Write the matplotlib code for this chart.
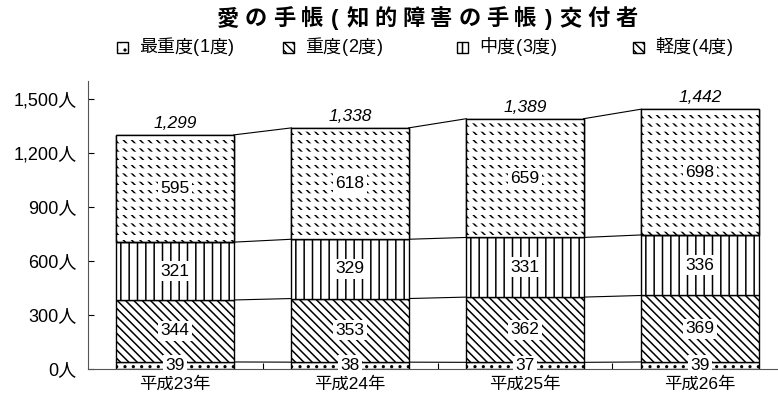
import matplotlib.pyplot as plt
from matplotlib.patches import Rectangle

plt.rcParams['font.family'] = ['Liberation Sans', 'Noto Sans CJK JP']
plt.rcParams['hatch.linewidth'] = 1.1

years = ['平成23年', '平成24年', '平成25年', '平成26年']
grade1 = [39, 38, 37, 39]      # 最重度(1度)
grade2 = [344, 353, 362, 369]  # 重度(2度)
grade3 = [321, 329, 331, 336]  # 中度(3度)
grade4 = [595, 618, 659, 698]  # 軽度(4度)
totals = [1299, 1338, 1389, 1442]
series_names = ['最重度(1度)', '重度(2度)', '中度(3度)', '軽度(4度)']
hatches = ['..', '\\\\\\\\', '||', '\\\\\\\\']

W, H = 778, 405
fig = plt.figure(figsize=(W / 100, H / 100), dpi=100)
ax = fig.add_axes([0.1125, 0.0889, 0.8997, 0.7119])


def spaced_text(x0, y, s, size, adv, narrow=0.62, **kw):
    # lay the string out one glyph at a time, with extra tracking
    x = x0
    for ch in s:
        w = adv if ord(ch) > 255 else adv * narrow
        fig.text((x + w / 2) / W, y, ch, ha='center', va='center',
                 fontsize=size, **kw)
        x += w


x = range(len(years))
width = 0.67
series = [grade1, grade2, grade3, grade4]
bottoms = [0] * len(years)
levels = []
for vals, h in zip(series, hatches):
    ax.bar(x, vals, width, bottom=bottoms, color='white', edgecolor='black',
           hatch=h, linewidth=1.0, zorder=2)
    bottoms = [b + v for b, v in zip(bottoms, vals)]
    levels.append(list(bottoms))

# break the top segment's diagonals into short dashes
b3 = [a + b + c for a, b, c in zip(grade1, grade2, grade3)]
white = ax.bar(x, grade4, width, bottom=b3, fill=False, edgecolor='white',
               hatch='--', linewidth=0, zorder=3)
for p in white.patches:
    if hasattr(p, 'set_hatch_linewidth'):
        p.set_hatch_linewidth(3.6)
ax.bar(x, grade4, width, bottom=b3, fill=False, edgecolor='black',
       linewidth=1.0, zorder=4)

# lines joining the segment boundaries of neighbouring bars
for lv in levels:
    for i in range(len(years) - 1):
        ax.plot([i + width / 2, i + 1 - width / 2], [lv[i], lv[i + 1]],
                color='black', lw=0.8, zorder=1)

# value labels
bottoms = [0] * len(years)
for vals in series:
    for i, v in enumerate(vals):
        ax.text(i, bottoms[i] + v / 2, str(v), ha='center', va='center',
                fontsize=12.5, zorder=6,
                bbox=dict(boxstyle='square,pad=0.15', fc='white', ec='none'))
    bottoms = [b + v for b, v in zip(bottoms, vals)]

for i, t in enumerate(totals):
    ax.text(i, t + 22, f'{t:,}', ha='center', va='bottom', fontsize=12.5,
            style='italic')

ax.set_xlim(-0.5, 3.5)
ax.set_ylim(0, 1600)
ax.set_yticks(range(0, 1501, 300))
ax.set_yticklabels([f'{v:,}人' for v in range(0, 1501, 300)], fontsize=13)
ax.set_xticks(list(x))
ax.set_xticklabels(years, fontsize=12.5)
ax.tick_params(axis='x', length=0, pad=5)
ax.tick_params(axis='y', direction='in', length=4, width=0.8, pad=8)
ax.set_xticks([0.5, 1.5, 2.5], minor=True)
ax.tick_params(axis='x', which='minor', direction='in', length=4, width=0.8)
for s in ['top', 'right']:
    ax.spines[s].set_visible(False)
ax.spines['left'].set_color('#555555')
ax.spines['bottom'].set_color('#555555')

spaced_text(214, 0.951, '愛の手帳(知的障害の手帳)交付者', 16, 28,
            fontweight='bold')

# legend row: hatched square icon followed by the label
icon_x = [117, 283, 457, 633]
leg_y = 0.882
for ix, name, h in zip(icon_x, series_names, hatches):
    fig.add_artist(Rectangle((ix / W, leg_y - 5.5 / H), 11 / W, 11 / H,
                             transform=fig.transFigure, facecolor='white',
                             edgecolor='black', hatch=h, lw=1.0))
    spaced_text(ix + 22, leg_y, name, 13, 17.6, narrow=0.5)

fig.savefig('out.png', dpi=100)
